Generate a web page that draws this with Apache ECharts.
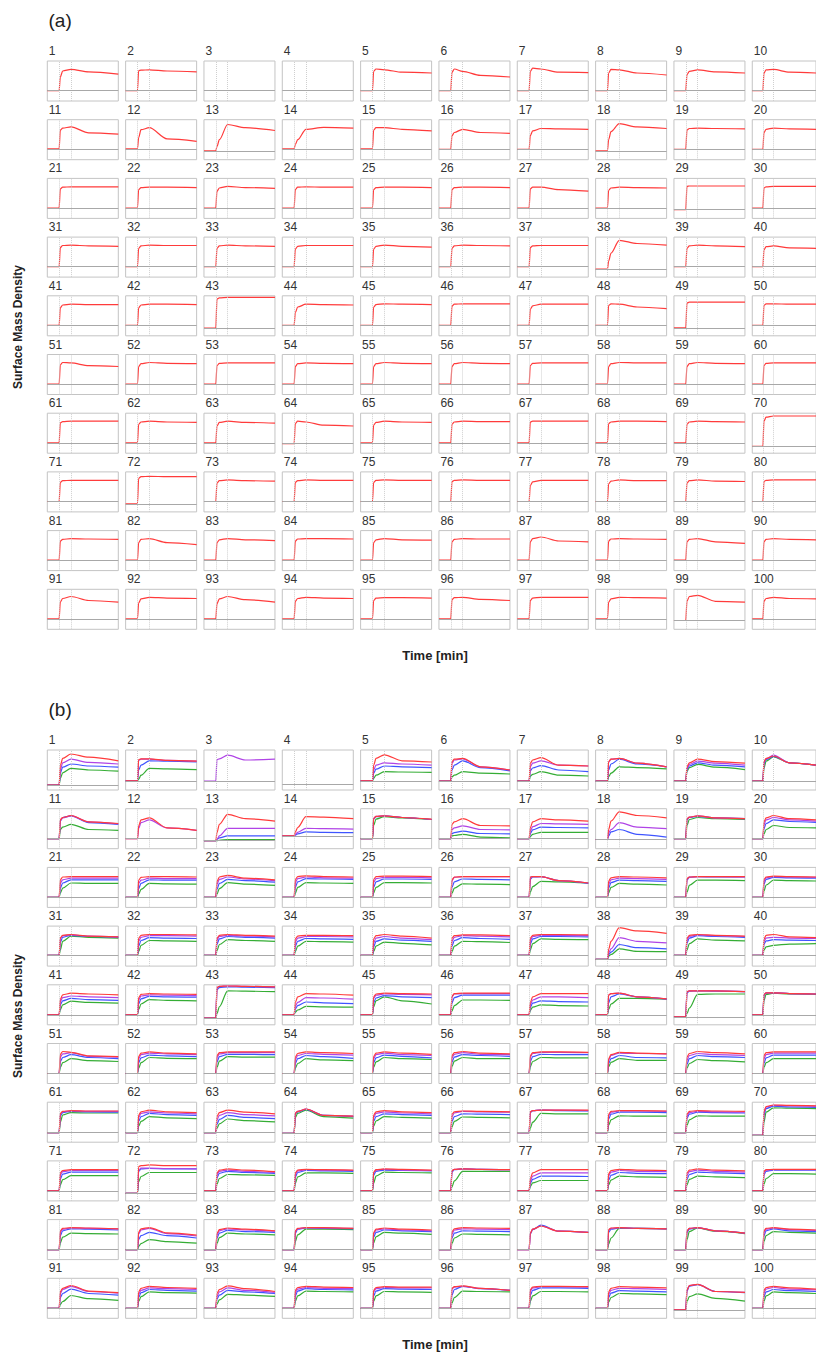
<!DOCTYPE html>
<html>
<head>
<meta charset="utf-8">
<script src="https://cdn.jsdelivr.net/npm/echarts@6/dist/echarts.min.js"></script>
<style>
html,body{margin:0;padding:0;background:#fff;}
#chart{width:816px;height:1353px;}
</style>
</head>
<body>
<div id="chart"></div>
<script>
// ---- data (values in % of each small panel's height, time in min) ----
const panelLabels = [1,2,3,4,5,6,7,8,9,10,11,12,13,14,15,16,17,18,19,20,21,22,23,24,25,26,27,28,29,30,31,32,33,34,35,36,37,38,39,40,41,42,43,44,45,46,47,48,49,50,51,52,53,54,55,56,57,58,59,60,61,62,63,64,65,66,67,68,69,70,71,72,73,74,75,76,77,78,79,80,81,82,83,84,85,86,87,88,89,90,91,92,93,94,95,96,97,98,99,100];
const timePoints = [0, 10, 11, 13, 20, 35, 60];
const markTimes = [10, 20];

const baseA = [26,26,26,26,26,26,26,26,26,26, 27,27,22,27,27,26,26,22,26,26, 26,26,26,26,26,26,26,26,22,26, 26,26,26,26,26,26,26,20,26,26, 26,26,19,26,26,26,26,26,20,26, 26,26,26,26,26,26,26,26,26,26, 26,26,26,24,26,26,26,26,26,17, 26,20,26,26,26,26,26,26,26,26, 26,26,26,26,26,26,26,26,26,26, 26,26,26,26,26,26,26,26,22,26];
const redA = [
[60,75,79,73,67],[76,77,78,75,73],null,null,[74,80,78,72,70],[72,80,74,64,60],[74,82,80,72,71],[70,79,78,70,65],[66,74,78,73,70],[70,78,79,72,70],
[74,79,82,67,64],[55,75,80,52,46],[33,50,88,80,73],[38,50,76,81,79],[74,80,80,76,72],[60,68,76,68,66],[60,72,78,77,76],[50,70,90,82,78],[74,78,79,78,77],[68,76,79,77,76],
[74,78,79,79,79],[72,77,78,78,77],[68,76,80,77,75],[72,78,79,78,78],[72,77,78,78,77],[72,77,78,78,77],[74,78,78,72,68],[70,76,78,77,76],[80,81,81,81,81],[76,79,80,80,80],
[74,79,80,78,77],[72,78,80,79,79],[72,78,80,78,77],[70,77,79,79,79],[70,77,80,77,75],[72,78,80,79,78],[74,78,79,79,79],[40,60,92,84,80],[72,78,80,78,76],[68,76,78,73,72],
[70,77,79,78,78],[70,77,79,79,78],[92,95,96,96,96],[58,72,79,78,77],[72,78,80,79,78],[74,79,80,80,80],[66,75,79,79,79],[76,80,79,72,68],[82,84,84,84,84],[76,80,80,79,79],
[74,80,79,72,70],[70,77,80,78,77],[72,78,79,79,79],[70,77,79,78,77],[70,77,80,78,77],[70,77,80,78,77],[72,78,79,79,79],[70,77,80,79,79],[70,77,80,78,77],[72,78,79,79,79],
[76,79,80,80,80],[72,78,80,78,77],[68,77,80,77,75],[74,80,78,70,68],[70,77,80,78,77],[72,78,80,79,79],[78,80,80,80,80],[74,78,80,80,79],[72,78,80,79,78],[80,90,93,93,93],
[74,78,79,79,79],[84,88,89,88,88],[72,78,80,78,77],[74,78,80,79,79],[74,79,80,79,79],[76,79,80,79,79],[66,75,79,79,79],[70,77,80,78,78],[72,78,80,77,76],[76,79,80,80,80],
[74,78,80,79,78],[70,78,80,70,65],[70,77,80,77,75],[74,79,80,80,79],[70,77,80,77,76],[72,78,80,79,79],[72,80,84,74,72],[74,79,80,79,78],[72,78,80,72,68],[72,78,80,78,77],
[68,77,82,72,68],[66,76,80,78,77],[64,76,82,74,68],[70,77,80,78,77],[72,78,79,79,78],[74,79,80,75,72],[72,78,80,80,80],[68,76,80,79,78],[70,82,85,70,68],[70,77,80,77,76]
];

const baseB = [12,23,22,15,23,22,22,22,22,22, 25,25,20,32,25,25,25,23,25,25, 25,25,25,25,25,25,25,25,25,25, 27,27,27,27,27,27,27,17,27,27, 25,25,17,25,25,25,25,25,20,25, 25,25,25,25,25,25,25,25,25,25, 24,24,24,22,24,24,24,24,24,17, 25,19,25,25,25,25,25,25,25,25, 25,25,25,25,25,25,25,25,25,25, 25,25,25,25,25,25,25,25,21,25];
const redB = [
[62,79,90,82,73],[76,78,78,74,72],null,null,[62,79,88,73,70],[71,77,79,58,50],[67,75,81,62,60],[71,77,79,67,58],[58,68,77,71,67],[71,79,85,68,62],
[73,78,83,67,63],[57,72,77,52,46],[40,61,86,75,69],[42,53,80,79,75],[76,81,82,78,74],[61,67,75,58,57],[52,67,75,72,69],[48,69,92,83,77],[75,79,82,77,75],[67,77,83,75,72],
[69,76,77,77,77],[68,75,77,77,76],[65,76,80,73,69],[70,77,79,77,76],[70,77,78,78,77],[69,76,77,77,77],[76,77,77,67,61],[66,74,77,76,74],[72,76,77,77,77],[70,76,78,77,76],
[71,77,79,75,73],[70,77,79,79,78],[70,77,79,77,75],[68,75,77,77,76],[68,76,79,75,70],[70,76,78,78,76],[70,77,79,79,78],[42,62,96,88,82],[70,77,79,77,75],[67,77,79,73,71],
[64,75,79,77,75],[68,76,78,77,76],[93,96,97,96,95],[56,70,78,77,74],[70,77,79,78,77],[72,78,79,79,79],[56,70,78,78,78],[75,78,79,70,65],[83,85,85,85,83],[76,80,80,78,77],
[73,80,78,69,67],[68,76,79,76,74],[70,77,79,79,79],[66,75,79,77,75],[68,76,79,76,73],[70,77,80,76,74],[70,77,79,79,78],[62,72,78,76,74],[66,75,80,77,74],[70,77,79,79,79],
[72,77,79,78,78],[68,76,80,76,74],[64,74,80,75,71],[73,77,83,67,65],[68,76,79,76,74],[70,76,78,77,76],[76,79,80,80,80],[70,77,79,79,78],[70,77,79,78,77],[77,89,93,92,91],
[70,76,78,78,78],[86,88,90,88,88],[70,77,80,77,73],[70,77,79,78,77],[72,78,80,79,77],[76,79,80,79,78],[56,70,78,78,78],[68,76,79,77,76],[70,77,80,77,75],[74,78,79,79,79],
[72,78,80,79,77],[69,77,80,67,61],[66,75,79,76,72],[72,78,80,80,78],[68,76,79,76,74],[70,77,80,79,78],[66,76,84,71,68],[75,79,80,78,77],[72,78,80,72,66],[72,78,80,76,74],
[67,75,82,68,64],[66,75,80,77,75],[62,72,81,74,67],[70,77,80,78,77],[70,77,79,78,78],[75,79,81,75,70],[72,78,80,80,79],[66,75,79,78,76],[71,82,85,67,65],[70,77,80,76,73]
];
const purpleB = [
[50,68,77,69,65],[74,77,77,74,72],[76,78,87,75,77],null,[50,62,68,65,62],[67,75,78,58,50],[58,67,73,62,60],[70,77,79,67,58],[54,64,72,67,62],[70,78,87,68,62],
[70,77,82,67,62],[50,65,72,52,46],[23,32,51,51,51],[36,41,51,50,49],[76,81,82,78,73],[48,52,57,48,47],[44,55,63,62,61],[40,48,65,54,50],[75,79,82,77,75],[60,72,78,72,69],
[61,69,73,73,73],[60,68,73,72,72],[58,70,76,71,67],[62,72,76,74,73],[62,72,75,75,74],[67,75,77,77,77],[76,77,77,67,61],[58,69,73,72,70],[70,76,77,77,76],[66,74,77,76,75],
[68,76,78,75,73],[62,72,76,76,75],[66,74,77,75,73],[60,70,74,74,73],[58,70,74,70,66],[62,72,76,75,73],[64,74,77,77,76],[33,43,71,62,58],[66,74,78,76,74],[62,70,72,70,69],
[58,68,72,70,68],[62,72,75,74,73],[93,96,97,96,95],[47,56,68,67,64],[66,74,77,76,75],[70,77,78,78,78],[50,62,70,70,68],[74,78,79,70,65],[83,85,85,85,83],[75,80,80,78,77],
[66,74,77,68,66],[62,72,76,74,72],[65,74,77,77,77],[60,70,75,73,71],[62,72,76,72,70],[64,73,77,73,72],[66,75,78,78,77],[58,70,76,75,74],[58,70,75,72,70],[62,72,76,76,76],
[70,76,78,77,77],[62,72,76,73,71],[56,67,74,69,66],[73,77,83,67,65],[62,72,76,73,71],[64,73,77,76,75],[76,79,80,80,79],[66,75,78,78,77],[66,74,77,76,75],[74,88,92,91,90],
[65,73,76,76,76],[76,82,82,81,80],[66,74,77,74,71],[66,75,78,77,76],[70,77,79,77,76],[76,79,80,79,78],[50,62,70,70,70],[62,72,76,74,73],[64,73,77,74,72],[72,77,78,78,78],
[68,76,79,78,77],[64,74,78,65,59],[62,72,77,74,71],[70,77,80,79,78],[64,74,77,74,72],[64,74,77,76,75],[66,76,84,71,68],[74,78,80,78,77],[72,78,80,72,66],[68,76,79,75,73],
[62,72,80,67,63],[60,70,76,74,72],[55,66,76,70,65],[64,73,77,75,74],[66,74,77,76,76],[74,78,80,75,70],[68,76,79,79,78],[60,70,75,74,72],[71,82,85,67,65],[64,73,77,73,71]
];
const blueB = [
[42,57,65,60,57],[50,62,73,72,70],null,null,[42,52,60,58,56],[50,62,73,56,48],[48,55,61,50,46],[50,65,77,65,58],[52,60,68,62,58],[66,76,84,68,62],
[69,78,82,65,61],null,[24,27,32,32,32],[34,37,42,41,40],[74,80,82,78,73],[38,40,44,38,37],[38,47,54,53,52],[32,42,48,36,29],[72,78,81,77,75],[50,63,72,68,66],
[48,61,69,69,69],[47,60,69,68,68],[45,60,70,67,63],[50,64,72,71,70],[50,64,71,71,70],[50,64,71,70,69],[70,76,77,67,60],[48,62,68,67,65],[68,75,77,76,76],[58,70,75,74,73],
[60,72,77,74,72],[50,64,71,70,69],[55,68,74,72,70],[50,62,69,68,67],[48,62,68,65,62],[50,64,71,69,67],[55,68,74,74,73],[29,35,54,46,43],[58,70,76,74,72],[55,63,66,65,64],
[50,60,66,63,61],[52,65,71,70,69],[88,93,95,94,93],[40,48,57,55,53],[55,67,73,70,68],[55,68,74,74,74],[44,54,60,58,57],[55,70,77,70,64],[80,84,85,84,83],[74,79,80,78,77],
[55,65,72,65,62],[52,64,71,69,67],[54,67,73,73,72],[50,62,70,67,63],[52,64,71,68,64],[54,66,72,70,68],[55,67,73,72,72],[50,62,70,65,64],[48,62,70,67,65],[50,64,71,71,71],
[66,74,77,76,75],[52,64,72,69,67],[45,57,67,62,59],[70,76,82,67,64],[52,64,71,69,67],[52,64,71,70,69],[74,79,80,79,78],[58,70,75,75,74],[60,70,75,74,73],[68,84,90,88,87],
[55,67,72,72,72],[74,80,81,80,80],[58,69,74,71,69],[60,71,76,75,74],[64,74,77,76,75],[72,78,80,79,78],[44,54,62,62,61],[52,64,71,69,68],[54,66,72,70,68],[66,74,77,77,77],
[60,72,77,76,74],[50,60,68,60,54],[54,66,73,70,68],[66,76,79,78,77],[56,68,74,72,70],[54,66,72,71,70],[64,75,86,71,68],[68,76,79,78,77],[68,76,80,72,66],[60,72,77,72,70],
[52,62,73,62,58],[52,64,72,70,68],[48,58,70,66,62],[56,68,74,72,71],[56,68,74,73,72],[58,72,80,74,70],[58,70,76,76,75],[52,63,69,68,66],[68,80,84,67,64],[54,66,72,69,67]
];
const greenB = [
[29,43,54,50,47],[27,37,54,53,51],null,null,[29,37,46,45,44],[33,37,46,42,40],[35,39,46,37,35],[33,42,58,56,53],[46,56,64,57,51],[55,72,83,68,62],
[48,54,61,48,46],null,[20,21,23,23,23],null,[58,74,80,77,73],[32,33,36,29,27],[30,36,41,41,41],null,[58,73,78,75,73],[37,48,58,53,52],
[36,48,61,60,60],[33,45,60,59,58],[33,47,62,58,55],[35,50,62,61,60],[36,50,62,62,61],[35,48,59,58,57],[38,52,65,64,61],[36,50,60,58,56],[38,55,68,68,67],[40,56,68,67,66],
[40,62,75,72,70],[36,52,64,63,62],[38,54,66,64,62],[36,50,62,61,60],[36,50,60,57,53],[36,50,62,61,59],[40,56,68,67,66],[25,29,43,37,36],[40,56,68,65,63],[40,48,52,55,56],
[38,50,59,56,54],[38,52,63,61,60],[28,45,85,84,83],[32,37,46,45,44],[45,60,70,60,52],[35,48,62,62,61],[36,44,50,48,47],[38,52,66,66,64],[28,42,76,77,77],[60,76,79,77,76],
[40,52,62,57,55],[38,52,65,63,62],[40,56,67,66,66],[38,50,62,59,57],[40,54,65,62,60],[42,56,65,62,62],[42,55,65,64,64],[42,53,62,58,58],[38,50,60,57,54],[40,52,62,62,62],
[50,68,74,73,73],[40,52,64,61,59],[35,46,58,54,51],[62,72,80,64,60],[40,53,64,62,60],[38,52,63,62,61],[35,50,72,71,71],[42,56,66,65,65],[42,56,66,65,65],[50,75,86,85,84],
[40,53,63,63,63],[48,61,71,71,71],[42,56,66,65,64],[44,60,70,70,69],[44,62,72,71,70],[35,50,74,74,74],[36,45,51,51,51],[40,52,62,60,59],[40,54,62,60,58],[42,56,68,68,67],
[42,56,66,65,64],[33,40,50,45,41],[40,55,66,64,62],[45,62,76,76,75],[42,57,68,66,63],[40,54,64,63,62],null,[38,54,78,78,77],[50,70,79,71,65],[45,60,70,68,66],
[35,42,57,49,45],[42,54,66,64,63],[36,46,60,58,55],[42,56,68,67,66],[42,56,67,66,65],[38,52,68,67,66],[42,56,67,67,66],[40,52,62,61,59],[42,54,61,50,43],[42,56,66,64,62]
];

// ---- layout & styles ----
const COLORS = {red:'#ff3b3b', purple:'#b044e6', blue:'#3f55ff', green:'#35ad35'};
const FONT = '"Liberation Sans", Arial, Helvetica, sans-serif';
const COL0 = 47.3, COLSTEP = 78.33, PW = 71, PH = 40, ROWSTEP = 58.7;
const TOP_A = 61, TOP_B = 750;

const grids = [], xAxes = [], yAxes = [], series = [], graphics = [];

function addPanel(i, topBase, base, curves) {
  const idx = grids.length;
  const c = i % 10, r = Math.floor(i / 10);
  const left = COL0 + c * COLSTEP, top = topBase + r * ROWSTEP;
  grids.push({left: left, top: top, width: PW, height: PH, show: true,
    borderColor: '#c4c4c4', borderWidth: 1, backgroundColor: '#fff', containLabel: false});
  xAxes.push({gridIndex: idx, type: 'value', min: 0, max: 60, show: false});
  yAxes.push({gridIndex: idx, type: 'value', min: 0, max: 100, show: false});
  series.push({type: 'line', xAxisIndex: idx, yAxisIndex: idx, data: [], silent: true,
    markLine: {silent: true, symbol: 'none', label: {show: false}, animation: false,
      data: markTimes.map(t => ({xAxis: t, lineStyle: {color: '#cfcfcf', type: 'dotted', width: 1}}))
        .concat([{yAxis: base, lineStyle: {color: '#a8a8a8', type: 'solid', width: 1}}])}});
  curves.forEach(([vals, color]) => {
    if (!vals) return;
    series.push({type: 'line', xAxisIndex: idx, yAxisIndex: idx, silent: true,
      showSymbol: false, smooth: 0.3, smoothMonotone: 'x',
      lineStyle: {color: color, width: 1.2},
      data: timePoints.map((t, k) => [t, k < 2 ? base : vals[k - 2]])});
  });
  graphics.push({type: 'text', left: left + 1.5, top: top - 16,
    style: {text: String(panelLabels[i]), font: '12px ' + FONT, fill: '#333'}});
}

for (let i = 0; i < 100; i++) {
  addPanel(i, TOP_A, baseA[i], [[redA[i], COLORS.red]]);
}
for (let i = 0; i < 100; i++) {
  addPanel(i, TOP_B, baseB[i], [[greenB[i], COLORS.green], [blueB[i], COLORS.blue],
    [purpleB[i], COLORS.purple], [redB[i], COLORS.red]]);
}

// section titles & axis names
[['(a)', 0], ['(b)', TOP_B - TOP_A]].forEach(([t, dy]) => {
  graphics.push({type: 'text', left: 48.5, top: 11 + dy, style: {text: t, font: '19px ' + FONT, fill: '#222'}});
  graphics.push({type: 'text', x: 435, y: 655 + dy,
    style: {text: 'Time [min]', font: 'bold 13px ' + FONT, fill: '#222', align: 'center', verticalAlign: 'middle'}});
  graphics.push({type: 'text', x: 18, y: 327 + dy, rotation: Math.PI / 2,
    style: {text: 'Surface Mass Density', font: 'bold 12px ' + FONT, fill: '#222', align: 'center', verticalAlign: 'middle'}});
});

const chart = echarts.init(document.getElementById('chart'), null, {renderer: 'svg'});
chart.setOption({
  animation: false,
  backgroundColor: '#fff',
  grid: grids, xAxis: xAxes, yAxis: yAxes, series: series,
  graphic: graphics
});
</script>
</body>
</html>
